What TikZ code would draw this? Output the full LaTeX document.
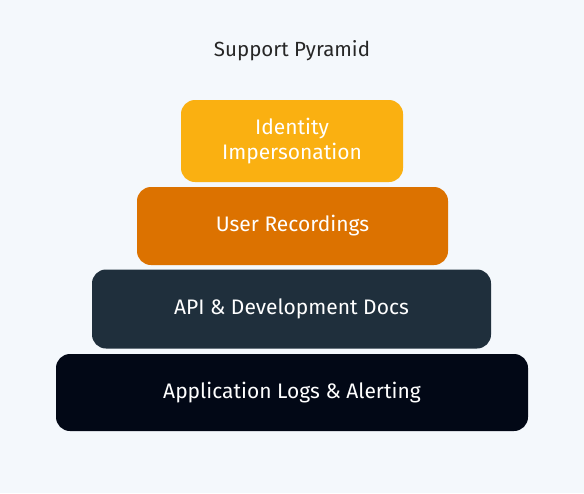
\documentclass[tikz,border=0pt]{standalone}
\usepackage{fontspec}
\setmainfont{Fira Sans}
\definecolor{bgpaper}{HTML}{F4F8FC}
\definecolor{tierone}{HTML}{FAB011}
\definecolor{tiertwo}{HTML}{DC7200}
\definecolor{tierthree}{HTML}{1F2F3C}
\definecolor{tierfour}{HTML}{020816}
\begin{document}
\begin{tikzpicture}[x=1pt, y=1pt,
  layer/.style={rounded corners=14pt, inner sep=0pt, text=white, align=center,
    font=\fontsize{21}{25}\selectfont}]

% Background
\fill [bgpaper] (0,0) rectangle (584,-493);
\useasboundingbox (0,0) rectangle (584,-493);

% Nodes
\node [text=black!85] (title) at (292,-51) {\fontsize{20.5}{24}\selectfont Support Pyramid};
\node [layer, fill=tierone, minimum width=222pt, minimum height=82pt] (identity) at (292,-141) {Identity\\Impersonation};
\node [layer, fill=tiertwo, minimum width=311pt, minimum height=78pt] (recordings) at (292.5,-226) {User Recordings};
\node [layer, fill=tierthree, minimum width=399pt, minimum height=79pt] (docs) at (291.5,-309) {API \& Development Docs};
\node [layer, fill=tierfour, minimum width=472pt, minimum height=77pt] (logs) at (292,-392.5) {Application Logs \& Alerting};

\end{tikzpicture}
\end{document}
